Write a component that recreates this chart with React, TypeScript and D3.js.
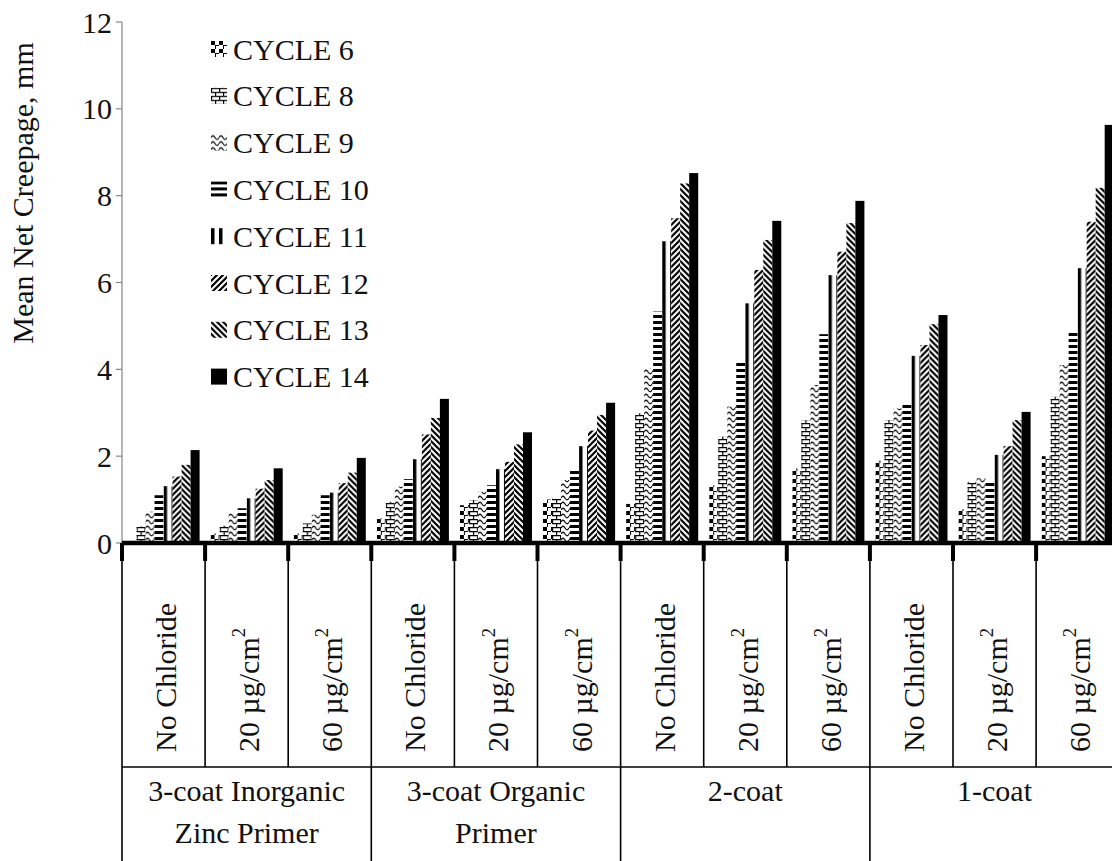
import React, { useEffect } from "react";
import * as d3 from "d3";

const cycles = ["CYCLE 6", "CYCLE 8", "CYCLE 9", "CYCLE 10", "CYCLE 11", "CYCLE 12", "CYCLE 13", "CYCLE 14"];
const treatments = ["No Chloride", "20 µg/cm", "60 µg/cm"];
const treatmentSup = ["", "2", "2"];
const systems = [
  ["3-coat Inorganic", "Zinc Primer"],
  ["3-coat Organic", "Primer"],
  ["2-coat"],
  ["1-coat"],
];
const categories = systems.flatMap((s, i) => treatments.map((t, j) => `${i}-${j}`));

const cycle6 = [0.05, 0.22, 0.22, 0.57, 0.87, 1.0, 0.9, 1.33, 1.72, 1.9, 0.78, 2.0];
const cycle8 = [0.38, 0.4, 0.45, 0.95, 0.99, 1.02, 2.99, 2.45, 2.83, 2.83, 1.41, 3.37];
const cycle9 = [0.72, 0.68, 0.65, 1.3, 1.18, 1.45, 4.03, 3.14, 3.64, 3.1, 1.49, 4.1];
const cycle10 = [1.1, 0.8, 1.1, 1.47, 1.33, 1.7, 5.33, 4.21, 4.81, 3.18, 1.45, 4.84];
const cycle11 = [1.31, 1.03, 1.16, 1.93, 1.7, 2.23, 6.95, 5.52, 6.17, 4.31, 2.03, 6.33];
const cycle12 = [1.53, 1.25, 1.38, 2.5, 1.87, 2.59, 7.48, 6.29, 6.71, 4.56, 2.23, 7.4];
const cycle13 = [1.8, 1.45, 1.62, 2.88, 2.27, 2.95, 8.28, 6.98, 7.37, 5.04, 2.83, 8.18];
const cycle14 = [2.14, 1.72, 1.96, 3.32, 2.55, 3.23, 8.52, 7.42, 7.88, 5.25, 3.02, 9.63];
const series = [cycle6, cycle8, cycle9, cycle10, cycle11, cycle12, cycle13, cycle14];
const yTicks = [0, 2, 4, 6, 8, 10, 12];

const W = 1112;
const H = 861;
const FONT = `"Liberation Serif", "Times New Roman", "DejaVu Serif", serif`;
const FS = 30;

const plotLeft = 122;
const catStep = 83.1;
const baseY = 543;
const topY = 22;
const tableMidY = 767;
const tickEndY = 561;

const patternIds = ["p6", "p8", "p9", "p10", "p11", "p12", "p13", "p14"];

function Patterns() {
  return (
    <defs>
      <pattern id="p6" patternUnits="userSpaceOnUse" width="8" height="8">
        <rect width="8" height="8" fill="#fff" />
        <rect x="0" y="0" width="4" height="4" fill="#000" />
        <path d="M4,4.5 H8 M4.5,4 V8" stroke="#000" strokeWidth="1" fill="none" />
      </pattern>
      <pattern id="p8" patternUnits="userSpaceOnUse" width="8" height="8">
        <rect width="8" height="8" fill="#fff" />
        <path d="M0,0.6 H8 M0,4.6 H8 M0.6,0 V4.6 M4.6,4.6 V8" stroke="#000" strokeWidth="1.2" fill="none" />
      </pattern>
      <pattern id="p9" patternUnits="userSpaceOnUse" width="8" height="6">
        <rect width="8" height="6" fill="#fff" />
        <path d="M0,3 C1.5,0.5 2.5,0.5 4,3 S6.5,5.5 8,3" stroke="#000" strokeWidth="1.2" fill="none" />
      </pattern>
      <pattern id="p10" patternUnits="userSpaceOnUse" width="8" height="6">
        <rect width="8" height="6" fill="#fff" />
        <rect x="0" y="0" width="8" height="3" fill="#000" />
      </pattern>
      <pattern id="p11" patternUnits="userSpaceOnUse" width="8" height="8">
        <rect width="8" height="8" fill="#fff" />
        <rect x="0" y="0" width="3.5" height="8" fill="#000" />
      </pattern>
      <pattern id="p12" patternUnits="userSpaceOnUse" width="6" height="6">
        <rect width="6" height="6" fill="#fff" />
        <path d="M0,6 L6,0 M-1.5,1.5 L1.5,-1.5 M4.5,7.5 L7.5,4.5" stroke="#000" strokeWidth="2.2" fill="none" />
      </pattern>
      <pattern id="p13" patternUnits="userSpaceOnUse" width="6" height="6">
        <rect width="6" height="6" fill="#fff" />
        <path d="M0,0 L6,6 M-1.5,4.5 L1.5,7.5 M4.5,-1.5 L7.5,1.5" stroke="#000" strokeWidth="2.2" fill="none" />
      </pattern>
      <pattern id="p14" patternUnits="userSpaceOnUse" width="8" height="8">
        <rect width="8" height="8" fill="#000" />
      </pattern>
    </defs>
  );
}

export default function App() {
  useEffect(() => {
    document.body.style.margin = "0";
  }, []);

  const x0 = d3
    .scaleBand<string>()
    .domain(categories)
    .range([plotLeft, plotLeft + catStep * categories.length])
    .paddingInner(0)
    .paddingOuter(0);
  const x1 = d3
    .scaleBand<string>()
    .domain(cycles)
    .range([5.5, catStep - 5.5])
    .paddingInner(0);
  const y = d3.scaleLinear().domain([0, 12]).range([baseY, topY]);

  const bw = x1.bandwidth();

  const separators = d3.range(categories.length + 1).map((i) => ({
    x: plotLeft + i * catStep,
    group: i % 3 === 0,
  }));

  const ts: React.CSSProperties = { fontFamily: FONT, fontSize: FS };

  return (
    <svg
      width={W}
      height={H}
      style={{ position: "absolute", left: 0, top: 0, display: "block", background: "#fff", fontFamily: FONT }}
    >
      <Patterns />
      <rect width={W} height={H} fill="#fff" />

      {/* y axis */}
      <line x1={plotLeft} x2={plotLeft} y1={y(12)} y2={baseY} stroke="#868686" strokeWidth={1.2} />
      {yTicks.map((t) => (
        <g key={t}>
          <line x1={plotLeft - 6} x2={plotLeft} y1={y(t)} y2={y(t)} stroke="#868686" strokeWidth={1.2} />
          <text x={112} y={y(t)} dy="0.35em" textAnchor="end" style={ts} fill="#111">
            {t}
          </text>
        </g>
      ))}
      <text
        transform={`translate(22,193) rotate(-90)`}
        textAnchor="middle"
        dy="0.35em"
        style={ts}
        fill="#111"
      >
        Mean Net Creepage, mm
      </text>

      {/* bars */}
      {series.map((vals, si) =>
        vals.map((v, ci) => {
          const bx = (x0(categories[ci]) as number) + (x1(cycles[si]) as number);
          return (
            <g key={`${si}-${ci}`} transform={`translate(${bx},${baseY})`}>
              <rect x={0} y={y(v) - baseY} width={bw} height={baseY - y(v)} fill={`url(#${patternIds[si]})`} />
            </g>
          );
        })
      )}

      {/* x axis line & table */}
      <line x1={plotLeft} x2={W} y1={baseY} y2={baseY} stroke="#000" strokeWidth={4.5} />
      {separators.map((s, i) => (
        <g key={i}>
          <line x1={s.x} x2={s.x} y1={baseY} y2={tickEndY} stroke="#000" strokeWidth={4} />
          <line x1={s.x} x2={s.x} y1={tickEndY} y2={s.group ? H : tableMidY} stroke="#000" strokeWidth={1.6} />
        </g>
      ))}
      <line x1={plotLeft} x2={W} y1={tableMidY} y2={tableMidY} stroke="#000" strokeWidth={1.6} />

      {/* treatment labels */}
      {categories.map((c, ci) => {
        const cx = (x0(c) as number) + x0.bandwidth() / 2;
        const t = ci % 3;
        return (
          <text
            key={c}
            transform={`translate(${cx + 2},752) rotate(-90)`}
            textAnchor="start"
            dy="0.35em"
            style={ts}
            fill="#111"
          >
            {treatments[t]}
            {treatmentSup[t] && (
              <tspan style={{ fontSize: FS * 0.62 }} dy="-0.75em">
                {treatmentSup[t]}
              </tspan>
            )}
          </text>
        );
      })}

      {/* system labels */}
      {systems.map((lines, gi) => {
        const gx = plotLeft + (gi * 3 + 1.5) * catStep;
        return lines.map((ln, li) => (
          <text key={`${gi}-${li}`} x={gx} y={801 + li * 42} textAnchor="middle" style={ts} fill="#111">
            {ln}
          </text>
        ));
      })}

      {/* legend */}
      {cycles.map((c, i) => {
        const cy = 49 + i * 46.8;
        return (
          <g key={c}>
            <g transform={`translate(211,${cy - 8})`}>
              <rect x={0} y={0} width={16} height={16} fill={`url(#${patternIds[i]})`} />
            </g>
            <text x={233} y={cy} dy="0.35em" style={ts} fill="#111">
              {c}
            </text>
          </g>
        );
      })}
    </svg>
  );
}
